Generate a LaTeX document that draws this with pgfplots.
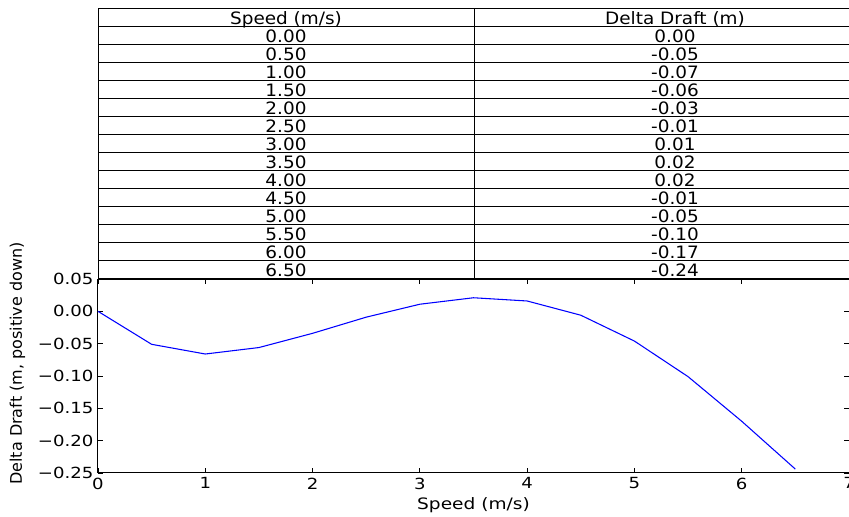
\documentclass[border=0pt]{standalone}
\usepackage{pgfplots}
\pgfplotsset{compat=1.18}
\usepackage{fontspec}
\setmainfont{DejaVu Sans}
\newfontfamily\wideA[FakeStretch=1.18]{DejaVu Sans}
\newfontfamily\wideT[FakeStretch=1.08]{DejaVu Sans}
\begin{document}
\begin{tikzpicture}[x=0.75pt,y=0.75pt]
\useasboundingbox (0,0) rectangle (849,517);
% table
\foreach \i in {0,...,15} \draw[line width=0.75pt] (98,{508-18*\i}) -- (890,{508-18*\i});
\draw[line width=0.75pt] (98,508) -- (98,238);
\draw[line width=0.75pt] (474,508) -- (474,238);
\tikzset{tabtxt/.style={anchor=base,font=\wideT\fontsize{12.8}{15}\selectfont,inner sep=0pt}}
\node[tabtxt] at (286,492.7) {Speed (m/s)};
\node[tabtxt] at (675,492.7) {Delta Draft (m)};
\foreach \s/\d [count=\k] in {0.00/0.00,0.50/-0.05,1.00/-0.07,1.50/-0.06,2.00/-0.03,2.50/-0.01,3.00/0.01,3.50/0.02,4.00/0.02,4.50/-0.01,5.00/-0.05,5.50/-0.10,6.00/-0.17,6.50/-0.24}{
  \node[tabtxt] at (286,{492.7-18*\k}) {\s};
  \node[tabtxt] at (675,{492.7-18*\k}) {\d};
}
\begin{axis}[
  at={(73.5pt,33pt)}, anchor=south west,
  scale only axis, width=563.25pt, height=145.5pt,
  xmin=0, xmax=7, ymin=-0.25, ymax=0.05,
  xtick={0,1,2,3,4,5,6,7},
  ytick={-0.25,-0.2,-0.15,-0.1,-0.05,0,0.05},
  yticklabels={−0.25,−0.20,−0.15,−0.10,−0.05,0.00,0.05},
  tick align=inside,
  major tick length=3.75pt,
  every tick/.style={black, line width=0.6pt},
  axis line style={line width=0.75pt},
  tick label style={font=\wideA\fontsize{11.5}{14}\selectfont},
  /pgf/number format/assume math mode=true,
  xlabel={Speed (m/s)},
  ylabel={Delta Draft (m, positive down)},
  xlabel style={font=\wideA\fontsize{11.8}{14}\selectfont, at={(axis description cs:0.5,-0.165)}, anchor=center},
  ylabel style={font=\fontsize{12.0}{14}\selectfont, at={(axis description cs:-0.1072,0.5644)}, anchor=center},
  clip=false,
]
\addplot[blue, line width=0.8pt] coordinates {
(0,0) (0.5,-0.051) (1,-0.066) (1.5,-0.056) (2,-0.034) (2.5,-0.009) (3,0.011) (3.5,0.021) (4,0.016) (4.5,-0.006) (5,-0.046) (5.5,-0.101) (6,-0.170) (6.5,-0.244)
};
\end{axis}
\end{tikzpicture}
\end{document}
